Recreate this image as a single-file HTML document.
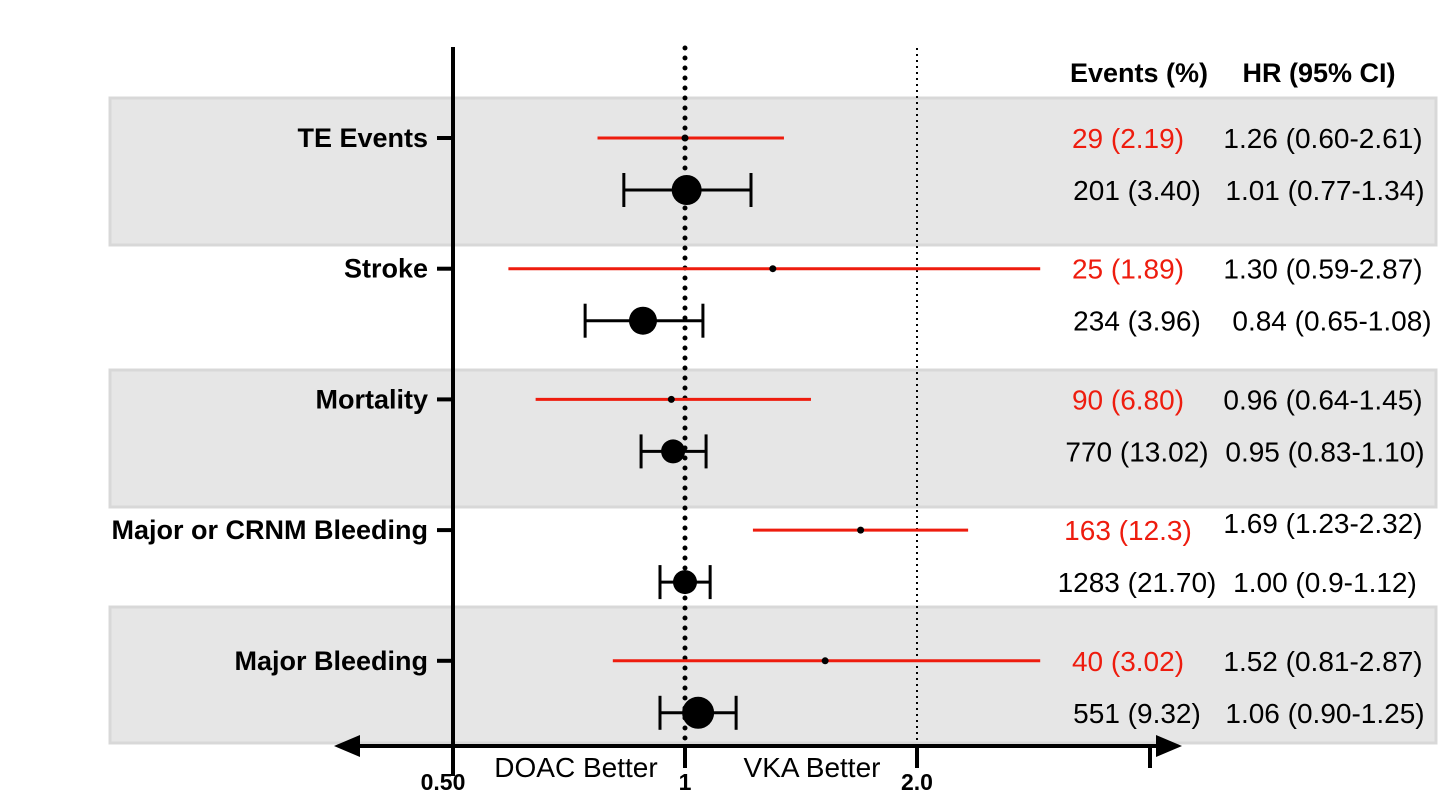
<!DOCTYPE html>
<html><head><meta charset="utf-8"><style>
body{margin:0;background:#fff;}
svg{display:block;font-family:"Liberation Sans",Arial,sans-serif;}
</style></head><body>
<svg id="chart" width="1456" height="807">
<g id="bands"></g><g id="axes"></g><g id="marks"></g><g id="texts"></g>
</svg>
<script>
const outcomes=["TE Events","Stroke","Mortality","Major or CRNM Bleeding","Major Bleeding"];
const redPoint=[1.0,1.30,0.96,1.69,1.52];
const redLo=[0.77,0.59,0.64,1.225,0.806];
const redHi=[1.344,2.89,1.457,2.33,2.89];
const blackPoint=[1.005,0.882,0.965,1.0,1.04];
const blackLo=[0.833,0.742,0.877,0.928,0.928];
const blackHi=[1.218,1.055,1.065,1.078,1.165];
const blackSize=[15,14,12,12,16];
const redEvents=["29 (2.19)","25 (1.89)","90 (6.80)","163 (12.3)","40 (3.02)"];
const blackEvents=["201 (3.40)","234 (3.96)","770 (13.02)","1283 (21.70)","551 (9.32)"];
const redHR=["1.26 (0.60-2.61)","1.30 (0.59-2.87)","0.96 (0.64-1.45)","1.69 (1.23-2.32)","1.52 (0.81-2.87)"];
const blackHR=["1.01 (0.77-1.34)","0.84 (0.65-1.08)","0.95 (0.83-1.10)","1.00 (0.9-1.12)","1.06 (0.90-1.25)"];
const tickVals=[0.5,1,2];
const tickLabels=["0.50","1","2.0"];

const NS="http://www.w3.org/2000/svg";
const x=v=>685+232*Math.log2(v);
const yRow=i=>138+130.7*i;
function mk(p,t,a){const e=document.createElementNS(NS,t);for(const k in a)e.setAttribute(k,a[k]);p.appendChild(e);return e;}
const gB=document.getElementById('bands'),gA=document.getElementById('axes'),gM=document.getElementById('marks'),gT=document.getElementById('texts');
[[98,245],[370,507],[607,743]].forEach(([a,b],i)=>{
 const r=mk(gB,'rect',{x:110,y:a,width:1326,height:b-a,fill:'#e6e6e6',stroke:'#d8d8d8','stroke-width':3});
 
 
});
let l=mk(gA,'line',{x1:x(1),y1:48,x2:x(1),y2:745,stroke:'#000','stroke-width':5,'stroke-dasharray':'0 10','stroke-linecap':'round'});


l=mk(gA,'line',{x1:x(2),y1:48,x2:x(2),y2:745,stroke:'#000','stroke-width':2,'stroke-dasharray':'2 4'});


l=mk(gA,'line',{x1:453,y1:47,x2:453,y2:776,stroke:'#000','stroke-width':4});


l=mk(gA,'line',{x1:350,y1:746,x2:1165,y2:746,stroke:'#000','stroke-width':4});


mk(gA,'polygon',{points:'334,746 360,735 360,757',fill:'#000'});
mk(gA,'polygon',{points:'1182,746 1156,735 1156,757',fill:'#000'});
mk(gA,'line',{x1:1150,y1:746,x2:1150,y2:768,stroke:'#000','stroke-width':4});
tickVals.forEach((v,i)=>{
 mk(gA,'line',{x1:x(v),y1:746,x2:x(v),y2:768,stroke:'#000','stroke-width':4});
 const t=mk(gT,'text',{x:x(v)-(i==0?10:0),y:790,'text-anchor':'middle','font-size':23,'font-weight':'bold'});
 t.textContent=tickLabels[i];
 
 
});
let t=mk(gT,'text',{x:576,y:777,'text-anchor':'middle','font-size':28});t.textContent='DOAC Better';


t=mk(gT,'text',{x:812,y:777,'text-anchor':'middle','font-size':28});t.textContent='VKA Better';


t=mk(gT,'text',{x:1139,y:82,'text-anchor':'middle','font-size':27,'font-weight':'bold'});t.textContent='Events (%)';


t=mk(gT,'text',{x:1319,y:82,'text-anchor':'middle','font-size':27,'font-weight':'bold'});t.textContent='HR (95% CI)';


outcomes.forEach((o,i)=>{
 const yr=yRow(i),yb=yr+52;
 mk(gA,'line',{x1:437,y1:yr,x2:453,y2:yr,stroke:'#000','stroke-width':4});
 let e=mk(gT,'text',{x:428,y:yr+9,'text-anchor':'end','font-size':27,'font-weight':'bold'});e.textContent=o;
 
 
 e=mk(gM,'line',{x1:x(redLo[i]),y1:yr,x2:x(redHi[i]),y2:yr,stroke:'#ee1c0e','stroke-width':3});
 
 
 e=mk(gM,'circle',{cx:x(redPoint[i]),cy:yr,r:3.5,fill:'#000'});
 
 
 e=mk(gM,'line',{x1:x(blackLo[i]),y1:yb,x2:x(blackHi[i]),y2:yb,stroke:'#000','stroke-width':3});
 
 
 [blackLo[i],blackHi[i]].forEach(v=>mk(gM,'line',{x1:x(v),y1:yb-17,x2:x(v),y2:yb+17,stroke:'#000','stroke-width':3}));
 e=mk(gM,'circle',{cx:x(blackPoint[i]),cy:yb,r:blackSize[i],fill:'#000'});
 
 
 e=mk(gT,'text',{x:1128,y:yr+10,'text-anchor':'middle','font-size':28,fill:'#ee1c0e'});e.textContent=redEvents[i];
 
 
 e=mk(gT,'text',{x:1137,y:yb+10,'text-anchor':'middle','font-size':28});e.textContent=blackEvents[i];
 
 
 e=mk(gT,'text',{x:1323,y:yr+10-(i==3?7:0),'text-anchor':'middle','font-size':28});e.textContent=redHR[i];
 
 
 e=mk(gT,'text',{x:1325+(i==1?7:0),y:yb+10,'text-anchor':'middle','font-size':28});e.textContent=blackHR[i];
 
 
});
</script>
</body></html>
